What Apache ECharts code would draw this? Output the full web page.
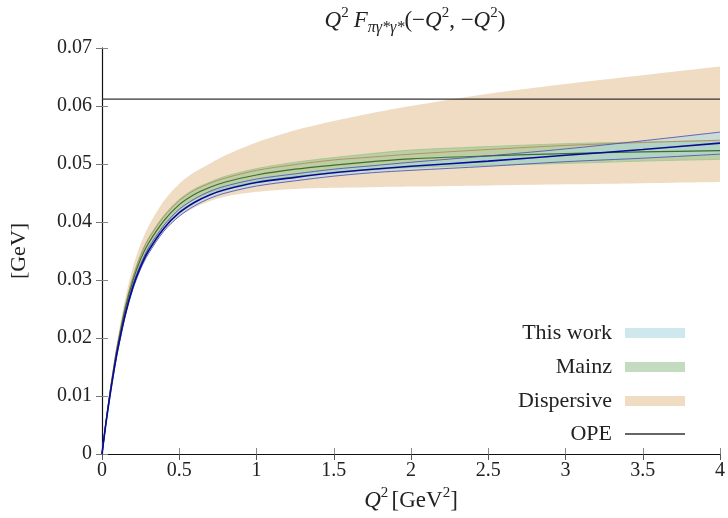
<!DOCTYPE html>
<html>
<head>
<meta charset="utf-8">
<script src="https://cdn.jsdelivr.net/npm/echarts@6/dist/echarts.min.js"></script>
<style>
  html, body { margin: 0; padding: 0; background: #fff; }
  #chart { width: 728px; height: 518px; }
</style>
</head>
<body>
<div id="chart"></div>
<script>
// Q^2 grid [GeV^2]
var Q2 = [0, 0.025, 0.05, 0.075, 0.1, 0.15, 0.2, 0.25, 0.3, 0.4, 0.5, 0.6, 0.7, 0.8, 1.0, 1.25, 1.5, 1.75, 2.0, 2.5, 3.0, 3.5, 4.0];

// This work (central, upper, lower)
var thisCentral = [0, 0.0052, 0.0098, 0.0140, 0.0178, 0.0240, 0.0288, 0.0323, 0.0350, 0.0389, 0.0416, 0.0434, 0.0447, 0.0456, 0.0468, 0.0477, 0.0485, 0.0491, 0.0496, 0.0505, 0.0515, 0.0525, 0.0536];
var thisUpper   = [0, 0.0053, 0.0100, 0.0142, 0.0181, 0.0243, 0.0292, 0.0327, 0.0355, 0.0394, 0.0422, 0.0440, 0.0453, 0.0462, 0.0474, 0.0483, 0.0491, 0.0497, 0.0503, 0.0514, 0.0526, 0.0540, 0.0555];
var thisLower   = [0, 0.0051, 0.0096, 0.0138, 0.0175, 0.0237, 0.0284, 0.0319, 0.0345, 0.0384, 0.0410, 0.0428, 0.0441, 0.0450, 0.0462, 0.0471, 0.0479, 0.0485, 0.0489, 0.0496, 0.0504, 0.0510, 0.0517];

// Mainz
var mainzCentral = [0, 0.0054, 0.0102, 0.0146, 0.0185, 0.0250, 0.0299, 0.0336, 0.0363, 0.0402, 0.0430, 0.0448, 0.0460, 0.0469, 0.0481, 0.0491, 0.0498, 0.0504, 0.0509, 0.0514, 0.0518, 0.0521, 0.0523];
var mainzUpper   = [0, 0.0055, 0.0104, 0.0149, 0.0189, 0.0256, 0.0306, 0.0344, 0.0372, 0.0411, 0.0439, 0.0457, 0.0469, 0.0479, 0.0492, 0.0503, 0.0511, 0.0518, 0.0524, 0.0530, 0.0535, 0.0538, 0.0540];
var mainzLower   = [0, 0.0053, 0.0100, 0.0143, 0.0181, 0.0244, 0.0292, 0.0328, 0.0354, 0.0393, 0.0421, 0.0439, 0.0451, 0.0459, 0.0470, 0.0479, 0.0486, 0.0490, 0.0494, 0.0498, 0.0501, 0.0505, 0.0508];

// Dispersive
var dispCentral = [0, 0.0055, 0.0104, 0.0148, 0.0188, 0.0254, 0.0304, 0.0342, 0.0370, 0.0409, 0.0437, 0.0455, 0.0467, 0.0476, 0.0489, 0.0499, 0.0507, 0.0512, 0.0517, 0.0525, 0.0532, 0.0537, 0.0541];
var dispUpper   = [0, 0.0058, 0.0110, 0.0156, 0.0198, 0.0268, 0.0322, 0.0362, 0.0392, 0.0436, 0.0466, 0.0486, 0.0501, 0.0515, 0.0537, 0.0558, 0.0574, 0.0588, 0.0600, 0.0621, 0.0638, 0.0653, 0.0668];
var dispLower   = [0, 0.0051, 0.0096, 0.0138, 0.0175, 0.0237, 0.0284, 0.0319, 0.0345, 0.0384, 0.0409, 0.0425, 0.0436, 0.0444, 0.0452, 0.0457, 0.0459, 0.0460, 0.0461, 0.0463, 0.0465, 0.0467, 0.0469];

// OPE asymptote
var opeX = [0, 4];
var opeValue = 0.0612;

var FONT = "'Liberation Serif', 'DejaVu Serif', serif";

function pairs(ys) {
    return Q2.map(function(q, i) { return [q, ys[i]]; });
}

var mathRich = {
    n: { fontFamily: FONT, fontSize: 23, fontWeight: 'normal', color: '#222', lineHeight: 30 },
    i: { fontFamily: FONT, fontSize: 23, fontWeight: 'normal', color: '#222', fontStyle: 'italic', lineHeight: 30 },
    sup: { fontFamily: FONT, fontSize: 15, fontWeight: 'normal', color: '#222', verticalAlign: 'top', lineHeight: 16 },
    sub: { fontFamily: FONT, fontSize: 16, fontWeight: 'normal', color: '#222', fontStyle: 'italic', verticalAlign: 'bottom', lineHeight: 20 }
};

// filled band between lo and hi, drawn as one polygon through the axes' scales
function band(name, hi, lo, color, opacity) {
    return {
        name: name, type: 'custom', silent: true,
        data: Q2.map(function(q, i) { return [q, lo[i], hi[i]]; }),
        encode: { x: 0, y: [1, 2] },
        itemStyle: { color: color },
        renderItem: function(params, api) {
            if (params.dataIndex !== 0) return;
            var n = Q2.length;
            var pts = [api.coord([Q2[0], hi[0]])];
            for (var i = 0; i < n; i++) pts.push(api.coord([Q2[i], hi[i]]));
            pts.push(api.coord([Q2[n - 1], hi[n - 1]]));
            pts.push(api.coord([Q2[n - 1], lo[n - 1]]));
            for (var j = n - 1; j >= 0; j--) pts.push(api.coord([Q2[j], lo[j]]));
            pts.push(api.coord([Q2[0], lo[0]]));
            return {
                type: 'polygon',
                shape: { points: pts, smooth: 0.3 },
                style: { fill: color, opacity: opacity, stroke: null }
            };
        }
    };
}
function curve(name, ys, color, width) {
    return {
        name: name, type: 'line', data: pairs(ys), symbol: 'none', smooth: 0.3,
        lineStyle: { color: color, width: width }, silent: true
    };
}

var series = [
    band('Dispersive', dispUpper, dispLower, '#efdcc3', 1),
    band('Mainz', mainzUpper, mainzLower, '#93c487', 0.55),
    curve('mainzHi', mainzUpper, '#9cc590', 0.8),
    curve('mainzLo', mainzLower, '#9cc590', 0.8),
    curve('dispC', dispCentral, '#b39068', 1),
    curve('mainzC', mainzCentral, '#3d6e2e', 1.2),
    band('This work', thisUpper, thisLower, '#a8dae8', 0.5),
    curve('thisHi', thisUpper, '#4848b4', 0.8),
    curve('thisLo', thisLower, '#4848b4', 0.8),
    curve('thisC', thisCentral, '#0a0a96', 1.6),
    {
        name: 'OPE', type: 'line', data: opeX.map(function(x) { return [x, opeValue]; }),
        symbol: 'none', lineStyle: { color: '#333', width: 1.2 }, silent: true
    }
];

var legendText = { fontFamily: FONT, fontSize: 22, color: '#222', lineHeight: 24, padding: [0, 8, 0, 0] };

var chart = echarts.init(document.getElementById('chart'), null, { renderer: 'canvas' });
chart.setOption({
    animation: false,
    backgroundColor: '#fff',
    title: {
        text: '{i|Q}{sup|2} {i|F}{sub|πγ*γ*}{n|(−}{i|Q}{sup|2}{n|, −}{i|Q}{sup|2}{n|)}',
        left: 410, top: 1, textAlign: 'center',
        textStyle: { fontWeight: 'normal', rich: mathRich }
    },
    grid: { left: 102, right: 4, top: 48, bottom: 64 },
    legend: [{
        orient: 'vertical', align: 'right', right: 38, top: 316, z: 20,
        itemWidth: 60, itemHeight: 10, itemGap: 10, selectedMode: false,
        textStyle: legendText,
        data: [
            { name: 'This work', icon: 'rect', itemStyle: { color: '#cfe8ee', opacity: 1 } },
            { name: 'Mainz', icon: 'rect', itemStyle: { color: '#c3dcbf', opacity: 1 } },
            { name: 'Dispersive', icon: 'rect', itemStyle: { color: '#efdcc3', opacity: 1 } }
        ]
    }, {
        orient: 'vertical', align: 'right', right: 38, top: 417, z: 20,
        itemWidth: 60, itemHeight: 1.5, selectedMode: false,
        textStyle: legendText,
        data: [{ name: 'OPE', icon: 'rect', itemStyle: { color: '#333', opacity: 1 } }]
    }],
    xAxis: [{
        type: 'value', min: 0, max: 4, interval: 0.5,
        name: '{i|Q}{sup|2} {n|[GeV}{sup|2}{n|]}',
        nameLocation: 'middle', nameGap: 21,
        nameTextStyle: { rich: mathRich },
        axisLine: { lineStyle: { color: '#a294ad', width: 1 } },
        axisTick: { inside: true, length: 6, lineStyle: { color: '#888' } },
        axisLabel: { fontFamily: FONT, fontSize: 20, color: '#222', margin: 7 },
        splitLine: { show: false }
    }, {
        type: 'value', min: 0, max: 4, interval: 0.5, position: 'top',
        axisLine: { lineStyle: { color: '#111', width: 1.2 } },
        axisTick: { inside: true, length: 6, lineStyle: { color: '#555' } },
        axisLabel: { show: false }, splitLine: { show: false }
    }],
    yAxis: [{
        type: 'value', min: 0, max: 0.07, interval: 0.01,
        name: '[GeV]', nameLocation: 'middle', nameGap: 72, nameRotate: 90,
        nameTextStyle: { fontFamily: FONT, fontSize: 22, color: '#222' },
        axisLine: { lineStyle: { color: '#555', width: 1 } },
        axisTick: { inside: true, length: 6, lineStyle: { color: '#888' } },
        axisLabel: { fontFamily: FONT, fontSize: 20, color: '#222', margin: 10 },
        splitLine: { show: false }
    }, {
        type: 'value', min: 0, max: 0.07, interval: 0.01, position: 'right',
        axisLine: { lineStyle: { color: '#111', width: 1.2 } },
        axisTick: { inside: true, length: 6, lineStyle: { color: '#777' } },
        axisLabel: { show: false }, splitLine: { show: false }
    }],
    series: series
});
</script>
</body>
</html>
